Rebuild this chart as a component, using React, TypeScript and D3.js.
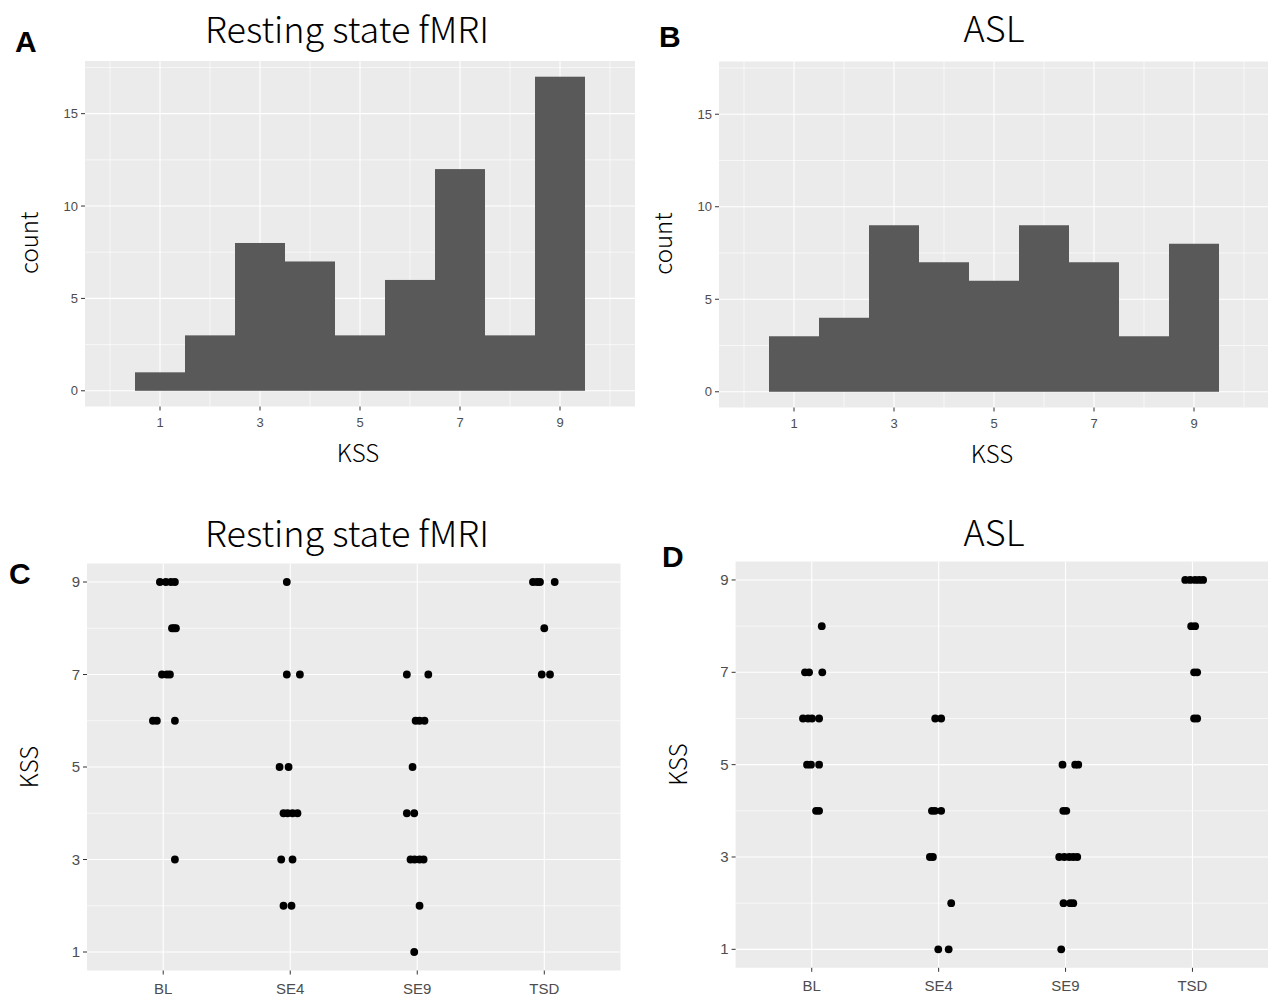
import React from "react";
import * as d3 from "d3";

// ---------- data ----------
const KSS_BINS = [1, 2, 3, 4, 5, 6, 7, 8, 9];
const FMRI_COUNTS = [1, 3, 8, 7, 3, 6, 12, 3, 17];
const ASL_COUNTS = [3, 4, 9, 7, 6, 9, 7, 3, 8];
const HIST_X_TICKS = [1, 3, 5, 7, 9];
const HIST_X_MINOR = [0, 2, 4, 6, 8, 10];
const COUNT_TICKS = [0, 5, 10, 15];
const COUNT_MINOR = [2.5, 7.5, 12.5, 17.5];

const SESSIONS = ["BL", "SE4", "SE9", "TSD"];
const KSS_TICKS = [1, 3, 5, 7, 9];
const KSS_MINOR = [2, 4, 6, 8];

// [session, KSS, horizontal jitter (category units)]
const FMRI_POINTS: [string, number, number][] = [
  ["BL", 9, -0.026], ["BL", 9, 0.021], ["BL", 9, 0.061], ["BL", 9, 0.092],
  ["BL", 8, 0.069], ["BL", 8, 0.084], ["BL", 8, 0.1],
  ["BL", 7, -0.01], ["BL", 7, 0.029], ["BL", 7, 0.053],
  ["BL", 6, -0.081], ["BL", 6, -0.05], ["BL", 6, 0.092],
  ["BL", 3, 0.092],
  ["SE4", 9, -0.027],
  ["SE4", 7, -0.027], ["SE4", 7, 0.076],
  ["SE4", 5, -0.084], ["SE4", 5, -0.013],
  ["SE4", 4, -0.053], ["SE4", 4, -0.021], ["SE4", 4, 0.018], ["SE4", 4, 0.057],
  ["SE4", 3, -0.071], ["SE4", 3, 0.018],
  ["SE4", 2, -0.053], ["SE4", 2, 0.01],
  ["SE9", 7, -0.082], ["SE9", 7, 0.087],
  ["SE9", 6, -0.013], ["SE9", 6, 0.018], ["SE9", 6, 0.057],
  ["SE9", 5, -0.037],
  ["SE9", 4, -0.082], ["SE9", 4, -0.024],
  ["SE9", 3, -0.053], ["SE9", 3, -0.021], ["SE9", 3, 0.018], ["SE9", 3, 0.05],
  ["SE9", 2, 0.018],
  ["SE9", 1, -0.024],
  ["TSD", 9, -0.089], ["TSD", 9, -0.057], ["TSD", 9, -0.034], ["TSD", 9, 0.082],
  ["TSD", 8, 0],
  ["TSD", 7, -0.02], ["TSD", 7, 0.045],
];

const ASL_POINTS: [string, number, number][] = [
  ["BL", 8, 0.079],
  ["BL", 7, -0.053], ["BL", 7, -0.021], ["BL", 7, 0.083],
  ["BL", 6, -0.069], ["BL", 6, -0.029], ["BL", 6, 0.002], ["BL", 6, 0.058],
  ["BL", 5, -0.037], ["BL", 5, -0.006], ["BL", 5, 0.058],
  ["BL", 4, 0.034], ["BL", 4, 0.058],
  ["SE4", 6, -0.027], ["SE4", 6, 0.02],
  ["SE4", 4, -0.053], ["SE4", 4, -0.029], ["SE4", 4, 0.02],
  ["SE4", 3, -0.069], ["SE4", 3, -0.045],
  ["SE4", 2, 0.099],
  ["SE4", 1, -0.003], ["SE4", 1, 0.079],
  ["SE9", 5, -0.024], ["SE9", 5, 0.076], ["SE9", 5, 0.1],
  ["SE9", 4, -0.018], ["SE9", 4, 0.006],
  ["SE9", 3, -0.05], ["SE9", 3, -0.01], ["SE9", 3, 0.029], ["SE9", 3, 0.061], ["SE9", 3, 0.092],
  ["SE9", 2, -0.016], ["SE9", 2, 0.037], ["SE9", 2, 0.061],
  ["SE9", 1, -0.034],
  ["TSD", 9, -0.057], ["TSD", 9, -0.018], ["TSD", 9, 0.021], ["TSD", 9, 0.053], ["TSD", 9, 0.084],
  ["TSD", 8, -0.01], ["TSD", 8, 0.021],
  ["TSD", 7, 0.013], ["TSD", 7, 0.037],
  ["TSD", 6, 0.013], ["TSD", 6, 0.037],
];

// ---------- style ----------
const PANEL_BG = "#EBEBEB";
const BAR_FILL = "#595959";
const TICK_COLOR = "#4D4D4D";
const TITLE_FONT = "'Noto Sans CJK JP', 'Noto Sans', sans-serif";
const TICK_FONT = "'Liberation Sans Narrow', 'Liberation Sans', Arial, sans-serif";
const LETTER_FONT = "'Liberation Sans', Arial, sans-serif";
const TITLE_SIZE = 36;
const AXIS_TITLE_SIZE = 24;

type Box = { left: number; right: number; top: number; bottom: number };

function Histogram({ box, counts, title, titleX, titleY }: { box: Box; counts: number[]; title: string; titleX: number; titleY: number }) {
  const x = d3.scaleLinear().domain([-0.5, 10.5]).range([box.left, box.right]);
  const y = d3.scaleLinear().domain([-0.85, 17.85]).range([box.bottom, box.top]);
  const midX = (box.left + box.right) / 2;
  return (
    <g>
      <rect x={box.left} y={box.top} width={box.right - box.left} height={box.bottom - box.top} fill={PANEL_BG} />
      {HIST_X_MINOR.map((v) => (
        <line key={"xm" + v} x1={x(v)} x2={x(v)} y1={box.top} y2={box.bottom} stroke="#fff" strokeWidth={0.6} />
      ))}
      {COUNT_MINOR.map((v) => (
        <line key={"ym" + v} x1={box.left} x2={box.right} y1={y(v)} y2={y(v)} stroke="#fff" strokeWidth={0.6} />
      ))}
      {HIST_X_TICKS.map((v) => (
        <line key={"xM" + v} x1={x(v)} x2={x(v)} y1={box.top} y2={box.bottom} stroke="#fff" strokeWidth={1.1} />
      ))}
      {COUNT_TICKS.map((v) => (
        <line key={"yM" + v} x1={box.left} x2={box.right} y1={y(v)} y2={y(v)} stroke="#fff" strokeWidth={1.1} />
      ))}
      {KSS_BINS.map((b, i) => (
        <rect key={"b" + b} x={x(b - 0.5)} y={y(counts[i])} width={x(b + 0.5) - x(b - 0.5)} height={y(0) - y(counts[i])} fill={BAR_FILL} />
      ))}
      {HIST_X_TICKS.map((v) => (
        <g key={"xt" + v}>
          <line x1={x(v)} x2={x(v)} y1={box.bottom} y2={box.bottom + 4} stroke="#333" strokeWidth={1} />
          <text x={x(v)} y={box.bottom + 20} textAnchor="middle" fontFamily={TICK_FONT} fontSize={13} fill={TICK_COLOR}>{v}</text>
        </g>
      ))}
      {COUNT_TICKS.map((v) => (
        <g key={"yt" + v}>
          <line x1={box.left - 4} x2={box.left} y1={y(v)} y2={y(v)} stroke="#333" strokeWidth={1} />
          <text x={box.left - 7} y={y(v) + 4.5} textAnchor="end" fontFamily={TICK_FONT} fontSize={13} fill={TICK_COLOR}>{v}</text>
        </g>
      ))}
      <text x={midX - 2} y={box.bottom + 55} textAnchor="middle" fontFamily={TITLE_FONT} fontWeight={300} fontSize={AXIS_TITLE_SIZE}>KSS</text>
      <text transform={`translate(${box.left - 47},${(box.top + box.bottom) / 2 + 9}) rotate(-90)`} textAnchor="middle" fontFamily={TITLE_FONT} fontWeight={300} fontSize={AXIS_TITLE_SIZE}>count</text>
      <text x={titleX} y={titleY} textAnchor="middle" fontFamily={TITLE_FONT} fontWeight={300} fontSize={TITLE_SIZE}>{title}</text>
    </g>
  );
}

function DotPanel({ box, points, title, titleX, titleY }: { box: Box; points: [string, number, number][]; title: string; titleX: number; titleY: number }) {
  const band = d3.scalePoint<string>().domain(SESSIONS).range([0, SESSIONS.length - 1]);
  const x = d3.scaleLinear().domain([-0.6, SESSIONS.length - 1 + 0.6]).range([box.left, box.right]);
  const y = d3.scaleLinear().domain([0.6, 9.4]).range([box.bottom, box.top]);
  return (
    <g>
      <rect x={box.left} y={box.top} width={box.right - box.left} height={box.bottom - box.top} fill={PANEL_BG} />
      {KSS_MINOR.map((v) => (
        <line key={"ym" + v} x1={box.left} x2={box.right} y1={y(v)} y2={y(v)} stroke="#fff" strokeWidth={0.6} />
      ))}
      {KSS_TICKS.map((v) => (
        <line key={"yM" + v} x1={box.left} x2={box.right} y1={y(v)} y2={y(v)} stroke="#fff" strokeWidth={1.1} />
      ))}
      {SESSIONS.map((s) => (
        <line key={"xM" + s} x1={x(band(s)!)} x2={x(band(s)!)} y1={box.top} y2={box.bottom} stroke="#fff" strokeWidth={1.1} />
      ))}
      {points.map(([s, k, j], i) => (
        <circle key={"p" + i} cx={x(band(s)! + j)} cy={y(k)} r={3.9} fill="#000" />
      ))}
      {SESSIONS.map((s) => (
        <g key={"xt" + s}>
          <line x1={x(band(s)!)} x2={x(band(s)!)} y1={box.bottom} y2={box.bottom + 4} stroke="#333" strokeWidth={1} />
          <text x={x(band(s)!)} y={box.bottom + 23} textAnchor="middle" fontFamily={TICK_FONT} fontSize={15} fill={TICK_COLOR}>{s}</text>
        </g>
      ))}
      {KSS_TICKS.map((v) => (
        <g key={"yt" + v}>
          <line x1={box.left - 4} x2={box.left} y1={y(v)} y2={y(v)} stroke="#333" strokeWidth={1} />
          <text x={box.left - 7} y={y(v) + 5} textAnchor="end" fontFamily={TICK_FONT} fontSize={15} fill={TICK_COLOR}>{v}</text>
        </g>
      ))}
      <text transform={`translate(${box.left - 49},${(box.top + box.bottom) / 2}) rotate(-90)`} textAnchor="middle" fontFamily={TITLE_FONT} fontWeight={300} fontSize={AXIS_TITLE_SIZE}>KSS</text>
      <text x={titleX} y={titleY} textAnchor="middle" fontFamily={TITLE_FONT} fontWeight={300} fontSize={TITLE_SIZE}>{title}</text>
    </g>
  );
}

export default function App() {
  return (
    <svg width={1268} height={998} style={{ position: "absolute", left: 0, top: 0, background: "#fff" }}>
      <rect width={1268} height={998} fill="#fff" />
      <Histogram box={{ left: 85, right: 635, top: 61, bottom: 406.5 }} counts={FMRI_COUNTS} title="Resting state fMRI" titleX={347} titleY={43} />
      <Histogram box={{ left: 719, right: 1269, top: 61.5, bottom: 407.5 }} counts={ASL_COUNTS} title="ASL" titleX={994} titleY={42} />
      <DotPanel box={{ left: 87, right: 620.5, top: 563.5, bottom: 970.5 }} points={FMRI_POINTS} title="Resting state fMRI" titleX={347} titleY={547} />
      <DotPanel box={{ left: 735.6, right: 1268.6, top: 561.5, bottom: 967.8 }} points={ASL_POINTS} title="ASL" titleX={994} titleY={546} />
      <text x={15} y={52} fontFamily={LETTER_FONT} fontWeight="bold" fontSize={30}>A</text>
      <text x={659} y={47} fontFamily={LETTER_FONT} fontWeight="bold" fontSize={30}>B</text>
      <text x={9} y={584} fontFamily={LETTER_FONT} fontWeight="bold" fontSize={30}>C</text>
      <text x={662} y={567} fontFamily={LETTER_FONT} fontWeight="bold" fontSize={30}>D</text>
    </svg>
  );
}
